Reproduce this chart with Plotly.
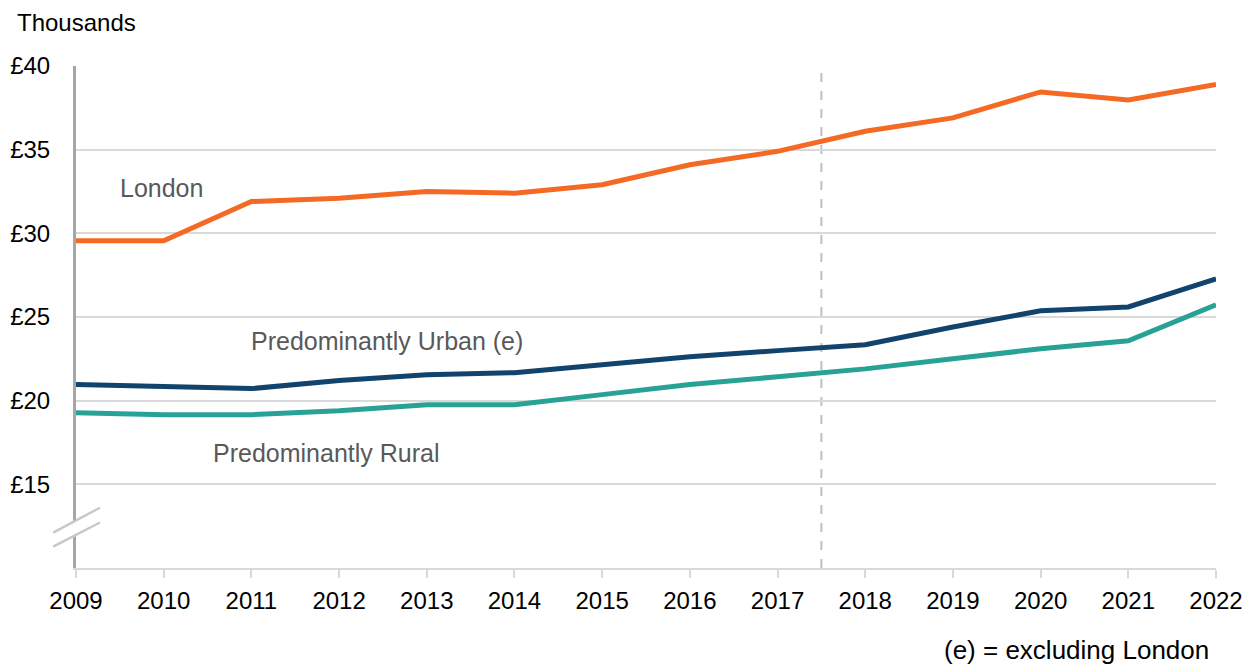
import plotly.graph_objects as go

years = list(range(2009, 2023))
london = [29.55, 29.55, 31.9, 32.1, 32.5, 32.4, 32.9, 34.1, 34.9, 36.1, 36.9, 38.45, 37.97, 38.9]
urban = [20.96, 20.84, 20.72, 21.2, 21.55, 21.67, 22.15, 22.63, 22.99, 23.34, 24.4, 25.37, 25.6, 27.28]
rural = [19.28, 19.16, 19.16, 19.4, 19.76, 19.76, 20.36, 20.96, 21.43, 21.9, 22.5, 23.1, 23.58, 25.73]

y_ticks = [15, 20, 25, 30, 35, 40]
y_labels = ["£15", "£20", "£25", "£30", "£35", "£40"]

font = "Liberation Sans, Arial, sans-serif"

fig = go.Figure()
fig.add_trace(go.Scatter(x=years, y=london, mode="lines", name="London",
                         line=dict(color="#F46A25", width=5)))
fig.add_trace(go.Scatter(x=years, y=urban, mode="lines", name="Predominantly Urban (e)",
                         line=dict(color="#12436D", width=5)))
fig.add_trace(go.Scatter(x=years, y=rural, mode="lines", name="Predominantly Rural",
                         line=dict(color="#28A197", width=5)))

# dashed divider between 2017 and 2018
fig.add_shape(type="line", x0=2017.5, x1=2017.5, y0=0, y1=0.99, xref="x", yref="y domain",
              line=dict(color="#bfbfbf", width=2, dash="dash"), layer="below")

# axis break marker
fig.add_shape(type="line", xref="x domain", yref="y", x0=-0.02, x1=0.021, y0=11.7, y1=13.15,
              line=dict(color="white", width=12))
for y0, y1 in [(12.12, 13.6), (11.28, 12.72)]:
    fig.add_shape(type="line", xref="x domain", yref="y", x0=-0.02, x1=0.021, y0=y0, y1=y1,
                  line=dict(color="#c8c8c8", width=2.5))

label_style = dict(showarrow=False, font=dict(family=font, size=25, color="#595959"))
fig.add_annotation(x=2009.97, y=32.72, text="London", **label_style)
fig.add_annotation(x=2012.55, y=23.58, text="Predominantly Urban (e)", **label_style)
fig.add_annotation(x=2011.86, y=16.9, text="Predominantly Rural", **label_style)

fig.add_annotation(x=-0.0535, y=1.0876, xref="paper", yref="paper", xanchor="left", yanchor="middle",
                   text="Thousands", showarrow=False,
                   font=dict(family=font, size=24, color="#000000"))
fig.add_annotation(x=0.9956, y=-0.163, xref="paper", yref="paper", xanchor="right", yanchor="middle",
                   text="(e) = excluding London", showarrow=False,
                   font=dict(family=font, size=26, color="#000000"))

# the page puts the figure 8px in from the window edge
fig.update_layout(
    width=1242, height=656,
    margin=dict(l=68, r=34, t=58, b=96),
    paper_bgcolor="white", plot_bgcolor="white",
    showlegend=False,
    font=dict(family=font, size=24, color="#000000"),
    xaxis=dict(range=[2009, 2022], tickvals=years, showgrid=False, zeroline=False,
               showline=True, linecolor="#d9d9d9", linewidth=2, automargin=False,
               ticks="outside", ticklen=8, tickcolor="#d9d9d9", tickwidth=2,
               ticklabelstandoff=2, tickfont=dict(size=24), fixedrange=True),
    yaxis=dict(range=[10, 40], tickvals=y_ticks, ticktext=y_labels,
               showgrid=True, gridcolor="#d9d9d9", gridwidth=1.5, zeroline=False,
               showline=True, linecolor="#a6a6a6", linewidth=3, automargin=False,
               ticks="", ticklabelstandoff=18, tickfont=dict(size=24), fixedrange=True),
)

fig.write_html("out.html")
